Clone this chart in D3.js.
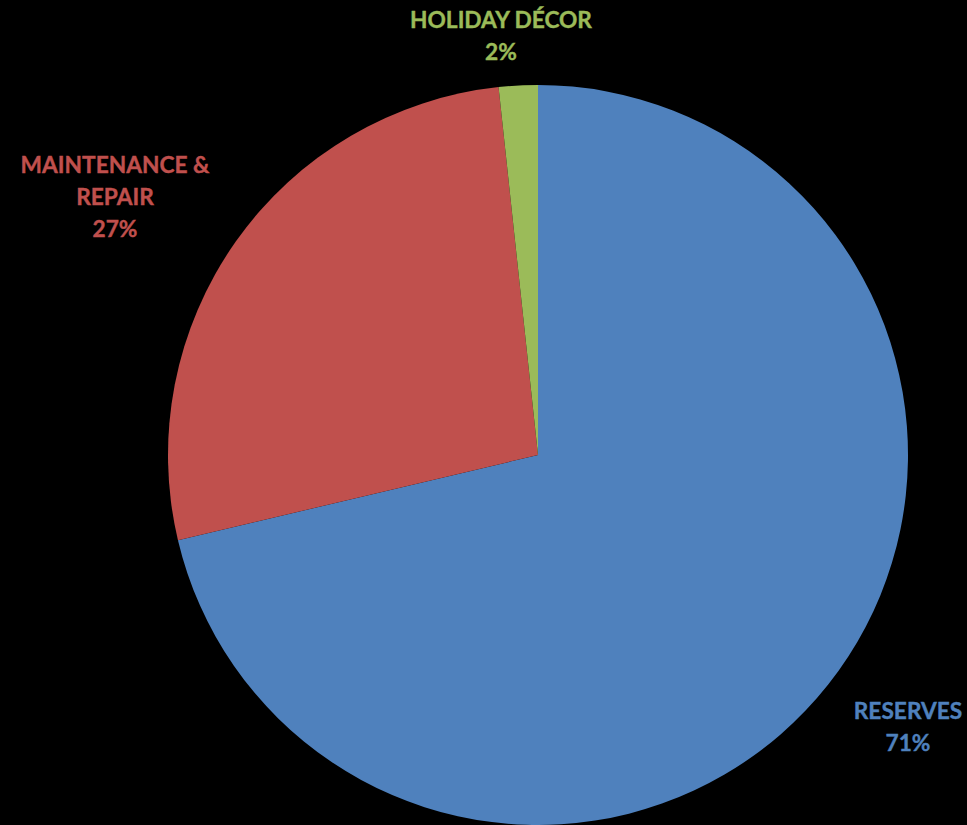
<!DOCTYPE html>
<html>
<head>
<meta charset="utf-8">
<script src="https://cdn.jsdelivr.net/npm/d3@7/dist/d3.min.js"></script>
<style>
  html, body { margin: 0; padding: 0; background: #000; }
  svg { display: block; }
</style>
</head>
<body>
<script>
// Budget allocation shares (percent)
const categories = ["RESERVES", "MAINTENANCE & REPAIR", "HOLIDAY DÉCOR"];
const values = [71.3, 27.0, 1.7];
const colors = ["#4F81BD", "#C0504D", "#9BBB59"];
// Label lines per slice (category name split over lines)
const labelLines = [["RESERVES"], ["MAINTENANCE &", "REPAIR"], ["HOLIDAY DÉCOR"]];
// Label anchor points (centre of text block)
const labelPos = [[908, 727], [115, 197], [501, 36]];

const W = 967, H = 825;
const cx = 538, cy = 455, R = 370;

const svg = d3.select("body").append("svg")
  .attr("width", W).attr("height", H)
  .style("background", "#000");

const data = categories.map((c, i) => ({ name: c, value: values[i], i }));

const pie = d3.pie().sort(null).value(d => d.value);
const arc = d3.arc().innerRadius(0).outerRadius(R);

const g = svg.append("g").attr("transform", `translate(${cx},${cy})`);
g.selectAll("path")
  .data(pie(data))
  .join("path")
  .attr("d", arc)
  .attr("fill", d => colors[d.data.i])
  .attr("stroke", "none");

const total = d3.sum(values);
const fmt = v => Math.round(v / total * 100) + "%";
const lineH = 32;

data.forEach((d, i) => {
  const lines = labelLines[i].concat([fmt(d.value)]);
  const [lx, ly] = labelPos[i];
  const y0 = ly - (lines.length - 1) * lineH / 2;
  const t = svg.append("text")
    .attr("text-anchor", "middle")
    .attr("font-family", "Lato, 'Open Sans', sans-serif")
    .attr("font-weight", "bold")
    .attr("font-size", 22.7)
    .attr("stroke", colors[i])
    .attr("stroke-width", 0.4)
    .attr("fill", colors[i]);
  lines.forEach((s, k) => {
    t.append("tspan")
      .attr("x", lx)
      .attr("y", y0 + k * lineH)
      .attr("dy", "0.35em")
      .text(s);
  });
});
</script>
</body>
</html>
